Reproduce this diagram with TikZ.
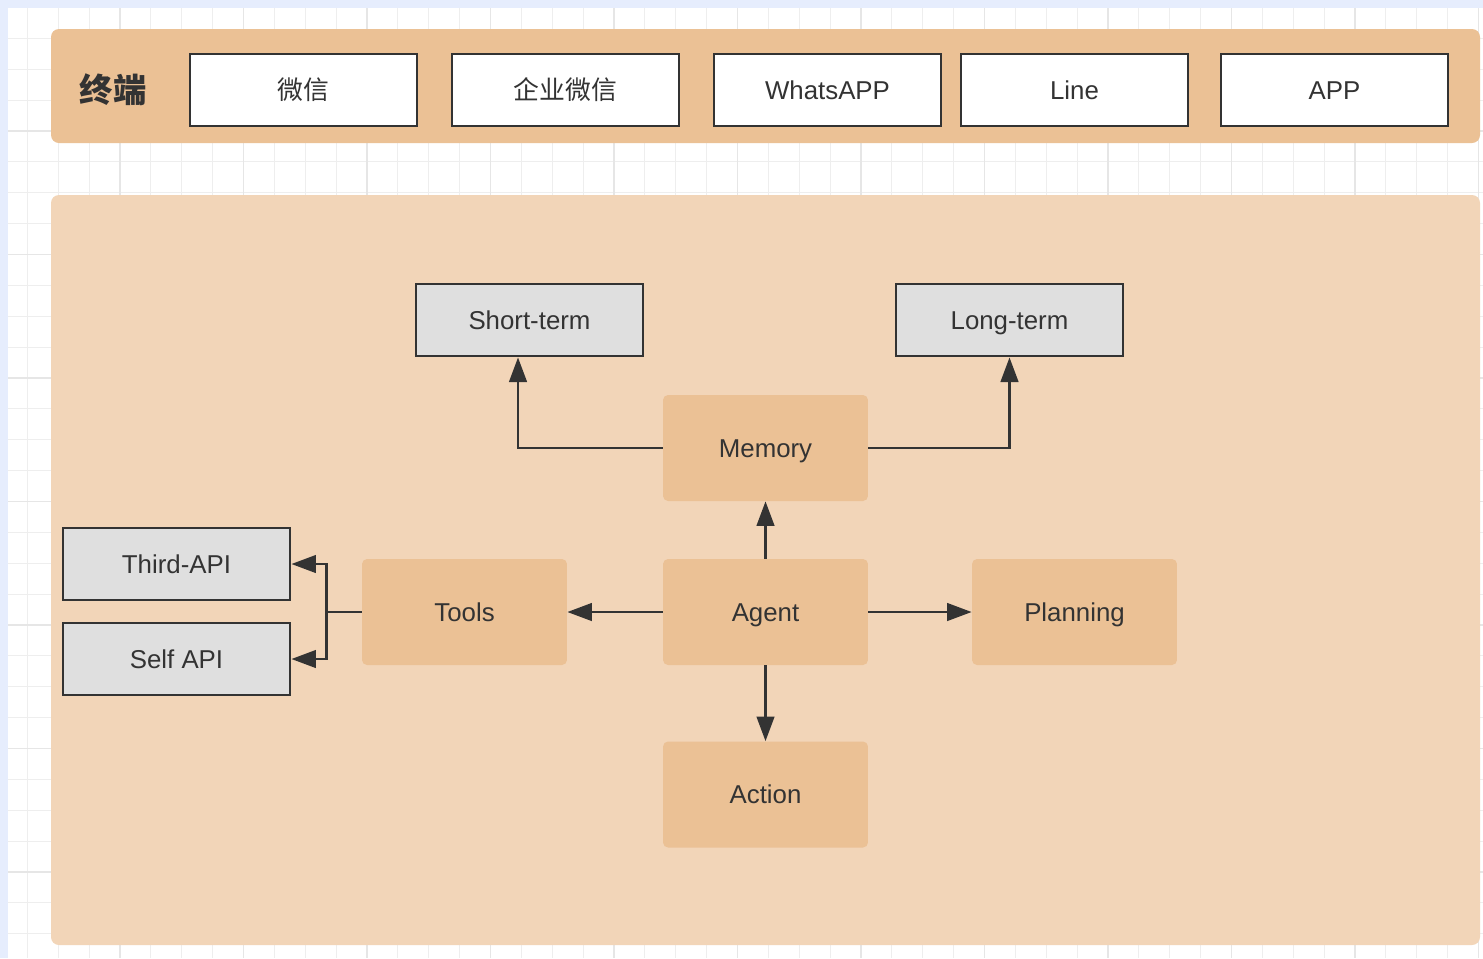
\documentclass[tikz,border=0pt]{standalone}
\usepackage{fontspec}
\setmainfont{Liberation Sans}
\newfontfamily\cjk{Noto Sans CJK SC}
\usetikzlibrary{arrows.meta}

\definecolor{frameblue}{HTML}{E6EDFD}
\definecolor{gridminor}{HTML}{EEEEEE}
\definecolor{gridmajor}{HTML}{E6E6E6}
\definecolor{bandtan}{HTML}{EBC195}
\definecolor{paneltan}{HTML}{F2D5B8}
\definecolor{boxtan}{HTML}{EBC195}
\definecolor{boxgray}{HTML}{DFDFDF}
\definecolor{ink}{HTML}{333333}

\tikzset{
  termbox/.style={draw=ink, line width=1.6pt, fill=white, text=ink,
    minimum width=4.54cm, minimum height=1.44cm,
    text height=11pt, text depth=0.5pt,
    font=\fontsize{14.7}{17}\selectfont},
  memobox/.style={termbox, fill=boxgray},
  partbox/.style={fill=boxtan, rounded corners=0.1cm, text=ink,
    minimum width=4.1cm, minimum height=2.12cm,
    text height=11pt, text depth=0.5pt,
    font=\fontsize{14.7}{17}\selectfont},
  link/.style={draw=ink, line width=1.5pt, -{Triangle[length=14pt,width=10pt]}},
}

\begin{document}
\begin{tikzpicture}[x=0.02cm, y=-0.02cm]
\useasboundingbox (0,0) rectangle (1483,958);
% background and grid
\fill[frameblue] (0,0) rectangle (1483,958);
\fill[white] (8,8) rectangle (1483,958);
\foreach \k in {0,...,47}
  \draw[gridminor, line width=0.6pt] ({27.4+30.875*\k},8) -- ({27.4+30.875*\k},958);
\foreach \k in {0,...,29}
  \draw[gridminor, line width=0.6pt] (8,{38.4+30.875*\k}) -- (1483,{38.4+30.875*\k});
\foreach \k in {0,...,11}
  \draw[gridmajor, line width=0.8pt] ({120+123.5*\k},8) -- ({120+123.5*\k},958);
\foreach \k in {0,...,7}
  \draw[gridmajor, line width=0.8pt] (8,{131+123.5*\k}) -- (1483,{131+123.5*\k});

% panels
\fill[bandtan, rounded corners=0.16cm] (51,29) rectangle (1480,143);
\fill[paneltan, rounded corners=0.16cm] (51,195) rectangle (1480,945);

% terminals
\node[text=ink, font=\cjk\bfseries\fontsize{19}{22}\selectfont] (label) at (113,90) {终端};
\node[termbox, font=\cjk\fontsize{14.7}{17}\selectfont] (wechat) at (303.5,90) {微信};
\node[termbox, font=\cjk\fontsize{14.7}{17}\selectfont] (wework) at (565.5,90) {企业微信};
\node[termbox] (whatsapp) at (827.5,90) {WhatsAPP};
\node[termbox] (line) at (1074.5,90) {Line};
\node[termbox] (app) at (1334.5,90) {APP};

% agent parts
\node[partbox] (memory) at (765.5,448) {Memory};
\node[partbox] (agent) at (765.5,612) {Agent};
\node[partbox] (tools) at (464.5,612) {Tools};
\node[partbox] (planning) at (1074.5,612) {Planning};
\node[partbox] (action) at (765.5,794.5) {Action};

\node[memobox] (short) at (529.5,320) {Short-term};
\node[memobox] (long) at (1009.5,320) {Long-term};
\node[memobox] (third) at (176.5,564) {Third-API};
\node[memobox] (self) at (176.5,659) {Self API};

% connectors
\draw[link] (memory.west) -| ([xshift=-0.23cm]short.south);
\draw[link] (memory.east) -| (long.south);
\draw[link] (agent.north) -- (memory.south);
\draw[link] (agent.west) -- (tools.east);
\draw[link] (agent.east) -- (planning.west);
\draw[link] (agent.south) -- (action.north);
\draw[draw=ink, line width=1.5pt] (tools.west) -- ++(-35,0) coordinate (fork);
\draw[link] (fork) |- (third.east);
\draw[link] (fork) |- (self.east);
\end{tikzpicture}
\end{document}
